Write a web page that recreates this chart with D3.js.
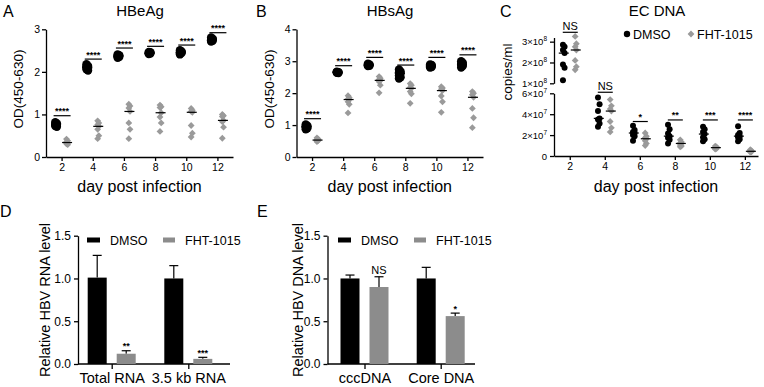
<!DOCTYPE html>
<html>
<head>
<meta charset="utf-8">
<script src="https://cdn.jsdelivr.net/npm/d3@7"></script>
<style>
  body { margin: 0; background: #fff; }
  svg { display: block; font-family: "Liberation Sans", Arial, sans-serif; }
</style>
</head>
<body>
<script>
"use strict";

// ---- data ----
const days = [2, 4, 6, 8, 10, 12];

// panel A, HBeAg OD
const hbeagDmso = [
  [0.82, 0.79, 0.77, 0.75, 0.73, 0.71, 0.76],
  [2.18, 2.14, 2.11, 2.09, 2.06, 2.03, 2.12],
  [2.41, 2.39, 2.37, 2.35, 2.33, 2.38, 2.36],
  [2.47, 2.45, 2.44, 2.43, 2.42, 2.46, 2.44],
  [2.51, 2.48, 2.46, 2.44, 2.41, 2.47, 2.43],
  [2.81, 2.78, 2.75, 2.73, 2.71, 2.76, 2.74]
];
const hbeagFht = [
  [0.42, 0.38, 0.34, 0.33, 0.31, 0.29, 0.35],
  [0.85, 0.80, 0.76, 0.72, 0.65, 0.50, 0.43],
  [1.24, 1.20, 1.15, 1.07, 0.80, 0.65, 0.43],
  [1.22, 1.18, 1.16, 1.04, 0.94, 0.80, 0.60],
  [1.14, 1.10, 1.07, 1.05, 0.74, 0.56, 0.47],
  [1.00, 0.97, 0.95, 0.86, 0.83, 0.70, 0.44]
];
const hbeagSigY = [0.97, 2.30, 2.56, 2.60, 2.63, 2.92];
const hbeagSig = ["****", "****", "****", "****", "****", "****"];

// panel B, HBsAg OD
const hbsagDmso = [
  [1.02, 0.98, 0.96, 0.95, 0.93, 0.90, 0.87],
  [2.67, 2.66, 2.65, 2.65, 2.64, 2.63, 2.66],
  [2.92, 2.90, 2.89, 2.88, 2.87, 2.86, 2.85],
  [2.74, 2.68, 2.65, 2.62, 2.55, 2.50, 2.46],
  [2.90, 2.88, 2.86, 2.85, 2.83, 2.82, 2.80],
  [3.00, 2.95, 2.92, 2.90, 2.88, 2.85, 2.80]
];
const hbsagFht = [
  [0.60, 0.56, 0.55, 0.53, 0.52, 0.51, 0.48],
  [1.92, 1.86, 1.82, 1.80, 1.73, 1.65, 1.38],
  [2.52, 2.47, 2.43, 2.40, 2.36, 2.25, 2.01],
  [2.30, 2.25, 2.18, 2.15, 2.05, 1.98, 1.68],
  [2.20, 2.16, 2.12, 2.08, 1.91, 1.73, 1.40],
  [2.05, 2.00, 1.95, 1.87, 1.52, 1.23, 0.92]
];
const hbsagSigY = [1.20, 2.86, 3.12, 2.88, 3.12, 3.20];
const hbsagSig = ["****", "****", "****", "****", "****", "****"];

// panel C, EC DNA copies/ml
const ecDmso = [
  [2.85e8, 2.75e8, 2.60e8, 2.45e8, 1.90e8, 1.75e8, 1.15e8],
  [5.6e7, 4.95e7, 4.3e7, 3.6e7, 3.5e7, 3.1e7, 2.8e7],
  [2.9e7, 2.5e7, 2.3e7, 2.2e7, 2.0e7, 1.9e7, 1.45e7],
  [3.0e7, 2.55e7, 2.15e7, 1.9e7, 1.75e7, 1.55e7, 1.2e7],
  [2.8e7, 2.55e7, 2.3e7, 2.1e7, 1.8e7, 1.6e7, 1.4e7],
  [2.85e7, 2.2e7, 2.0e7, 1.9e7, 1.8e7, 1.6e7, 1.4e7]
];
const ecFht = [
  [3.25e8, 2.90e8, 2.75e8, 2.60e8, 2.10e8, 1.80e8, 1.65e8],
  [5.4e7, 4.8e7, 4.5e7, 4.3e7, 3.3e7, 2.7e7, 2.3e7],
  [2.2e7, 1.9e7, 1.75e7, 1.65e7, 1.45e7, 1.2e7, 1.0e7],
  [1.55e7, 1.35e7, 1.25e7, 1.2e7, 1.05e7, 0.95e7, 0.88e7],
  [0.95e7, 0.88e7, 0.82e7, 0.8e7, 0.75e7, 0.7e7, 0.65e7],
  [0.6e7, 0.52e7, 0.48e7, 0.45e7, 0.42e7, 0.4e7, 0.38e7]
];
const ecSigY = [3.45e8, 6.1e7, 3.3e7, 3.45e7, 3.45e7, 3.45e7];
const ecSig = ["NS", "NS", "*", "**", "***", "****"];
const ecUpperTicks = [1e8, 2e8, 3e8];
const ecLowerTicks = [0, 2e7, 4e7, 6e7];

// panel D, RNA
const rnaCats = ["Total RNA", "3.5 kb RNA"];
const rnaDmso = [1.01, 1.00];
const rnaDmsoErr = [0.26, 0.15];
const rnaFht = [0.12, 0.06];
const rnaFhtErr = [0.035, 0.018];
const rnaSig = ["**", "***"];

// panel E, DNA
const dnaCats = ["cccDNA", "Core DNA"];
const dnaDmso = [1.00, 1.00];
const dnaDmsoErr = [0.04, 0.13];
const dnaFht = [0.90, 0.56];
const dnaFhtErr = [0.12, 0.035];
const dnaSig = ["NS", "*"];

const seriesNames = ["DMSO", "FHT-1015"];

// ---- drawing ----
const BLACK = "#000";
const GREY = "#9a9a9a";
const BARGREY = "#8c8c8c";
const W = 764, H = 387;

const svg = d3.select("body").append("svg").attr("width", W).attr("height", H);

function diamond(r) {
  return `M0,${-r}L${r},0L0,${r}L${-r},0Z`;
}

function styleAxis(g, fs) {
  g.selectAll(".domain").attr("stroke", BLACK).attr("stroke-width", 1.3);
  g.selectAll(".tick line").attr("stroke", BLACK).attr("stroke-width", 1.3);
  g.selectAll(".tick text").attr("fill", BLACK).style("font-size", fs + "px")
    .style("font-family", "Liberation Sans, Arial, sans-serif");
}

function panelLetter(txt, x, y) {
  svg.append("text").attr("x", x).attr("y", y).text(txt)
    .style("font-size", "16px");
}

function yLabel(txt, x, y, fs) {
  svg.append("text")
    .attr("transform", `translate(${x},${y}) rotate(-90)`)
    .attr("text-anchor", "middle")
    .style("font-size", fs + "px")
    .text(txt);
}

// scatter panel with median lines and significance bars
function scatterPanel(o) {
  const g = svg.append("g");
  const x = d3.scaleLinear().domain(o.xDomain).range(o.xRange);
  const y = d3.scaleLinear().domain(o.yDomain).range([o.baseY, o.topY]);

  g.append("g").attr("transform", `translate(0,${o.baseY})`)
    .call(d3.axisBottom(x).tickValues(days).tickSize(4).tickSizeOuter(0).tickPadding(3))
    .call(ax => styleAxis(ax, 10.5));
  g.append("g").attr("transform", `translate(${o.xRange[0]},0)`)
    .call(d3.axisLeft(y).ticks(o.yTicks).tickFormat(d3.format("d")).tickSize(4).tickSizeOuter(0).tickPadding(2))
    .call(ax => styleAxis(ax, 10.5));

  const off = 5.5;
  days.forEach((d, i) => {
    const cx = x(d);
    // black circles
    g.selectAll(null).data(o.dmso[i]).enter().append("circle")
      .attr("cx", (v, j) => cx - off + (j % 2 ? 0.8 : -0.8))
      .attr("cy", v => y(v)).attr("r", 4.2).attr("fill", BLACK);
    g.append("line").attr("x1", cx - off - 5).attr("x2", cx - off + 5)
      .attr("y1", y(d3.median(o.dmso[i]))).attr("y2", y(d3.median(o.dmso[i])))
      .attr("stroke", BLACK).attr("stroke-width", 1.2);
    // grey diamonds
    g.selectAll(null).data(o.fht[i]).enter().append("path")
      .attr("d", diamond(3.4))
      .attr("transform", (v, j) => `translate(${cx + off + (j % 2 ? 0.6 : -0.6)},${y(v)})`)
      .attr("fill", GREY);
    const m = y(d3.median(o.fht[i]));
    g.append("line").attr("x1", cx + off - 5).attr("x2", cx + off + 5)
      .attr("y1", m).attr("y2", m).attr("stroke", BLACK).attr("stroke-width", 1.2);
    // significance
    const sy = y(o.sigY[i]);
    g.append("line").attr("x1", cx - 8).attr("x2", cx + 9).attr("y1", sy).attr("y2", sy)
      .attr("stroke", BLACK).attr("stroke-width", 1.2);
    g.append("text").attr("x", cx + 0.5).attr("y", sy - 1.5).attr("text-anchor", "middle")
      .style("font-size", "9px").style("font-weight", "bold").text(o.sig[i]);
  });

  svg.append("text").attr("x", o.titleX).attr("y", 16).attr("text-anchor", "middle")
    .style("font-size", "15px").text(o.title);
  svg.append("text").attr("x", (o.xRange[0] + o.xRange[1]) / 2).attr("y", 192)
    .attr("text-anchor", "middle").style("font-size", "16px").text("day post infection");
  yLabel("OD(450-630)", o.ylabX, 89, 13.5);
}

scatterPanel({
  xDomain: [1, 13], xRange: [46, 233], yDomain: [0, 3], yTicks: 3,
  baseY: 157, topY: 29.3, dmso: hbeagDmso, fht: hbeagFht,
  sigY: hbeagSigY, sig: hbeagSig, title: "HBeAg", titleX: 140, ylabX: 23
});
panelLetter("A", 3, 17);

scatterPanel({
  xDomain: [1, 13], xRange: [296.5, 483], yDomain: [0, 4], yTicks: 4,
  baseY: 157, topY: 29.3, dmso: hbsagDmso, fht: hbsagFht,
  sigY: hbsagSigY, sig: hbsagSig, title: "HBsAg", titleX: 390, ylabX: 274
});
panelLetter("B", 256, 17);

// ---- panel C, broken y axis ----
(function () {
  const g = svg.append("g");
  const x = d3.scaleLinear().domain([1.1, 12.75]).range([554, 758]);
  const yUp = d3.scaleLinear().domain([1e8, 3.2e8]).range([83.3, 37.5]);
  const yLo = d3.scaleLinear().domain([0, 6e7]).range([156, 93.3]);
  const yv = v => v >= 1e8 ? yUp(v) : yLo(v);

  g.append("g").attr("transform", "translate(0,156)")
    .call(d3.axisBottom(x).tickValues(days).tickSize(4).tickSizeOuter(0).tickPadding(3))
    .call(ax => styleAxis(ax, 10.5));

  const expFmt = (sel) => {
    sel.selectAll(".tick text").each(function (v) {
      const t = d3.select(this);
      t.text(null);
      if (v === 0) { t.text("0"); return; }
      const e = Math.floor(Math.log10(v));
      const m = Math.round(v / Math.pow(10, e));
      t.append("tspan").text(m + "×10");
      t.append("tspan").attr("dy", -4).style("font-size", "6.5px").text(e);
    });
  };
  g.append("g").attr("transform", "translate(554,0)")
    .call(d3.axisLeft(yUp).tickValues(ecUpperTicks).tickSize(4).tickSizeOuter(0).tickPadding(3))
    .call(ax => styleAxis(ax, 9.5)).call(expFmt);
  g.append("g").attr("transform", "translate(554,0)")
    .call(d3.axisLeft(yLo).tickValues(ecLowerTicks).tickSize(4).tickSizeOuter(0).tickPadding(3))
    .call(ax => styleAxis(ax, 9.5)).call(expFmt);

  const off = 6;
  days.forEach((d, i) => {
    const cx = x(d);
    g.selectAll(null).data(ecDmso[i]).enter().append("circle")
      .attr("cx", (v, j) => cx - off + (j % 2 ? 0.8 : -0.8))
      .attr("cy", v => yv(v)).attr("r", 3).attr("fill", BLACK);
    const md = yv(d3.median(ecDmso[i]));
    g.append("line").attr("x1", cx - off - 5).attr("x2", cx - off + 5)
      .attr("y1", md).attr("y2", md).attr("stroke", BLACK).attr("stroke-width", 1.2);
    g.selectAll(null).data(ecFht[i]).enter().append("path")
      .attr("d", diamond(3.4))
      .attr("transform", (v, j) => `translate(${cx + off + (j % 2 ? 0.6 : -0.6)},${yv(v)})`)
      .attr("fill", GREY);
    const mf = yv(d3.median(ecFht[i]));
    g.append("line").attr("x1", cx + off - 5).attr("x2", cx + off + 5)
      .attr("y1", mf).attr("y2", mf).attr("stroke", BLACK).attr("stroke-width", 1.2);
    const sy = yv(ecSigY[i]);
    g.append("line").attr("x1", cx - 7).attr("x2", cx + 8).attr("y1", sy).attr("y2", sy)
      .attr("stroke", BLACK).attr("stroke-width", 1.2);
    const ns = ecSig[i] === "NS";
    g.append("text").attr("x", cx + 0.5).attr("y", sy - (ns ? 2 : 1.5)).attr("text-anchor", "middle")
      .style("font-size", ns ? "11px" : "9px").style("font-weight", ns ? "normal" : "bold")
      .text(ecSig[i]);
  });

  // legend
  const lg = svg.append("g").attr("transform", "translate(627,34)");
  lg.append("circle").attr("r", 3.2).attr("fill", BLACK);
  lg.append("text").attr("x", 6).attr("y", 4.5).style("font-size", "12.5px").text(seriesNames[0]);
  lg.append("path").attr("d", diamond(3.4)).attr("transform", "translate(64,0)").attr("fill", GREY);
  lg.append("text").attr("x", 70).attr("y", 4.5).style("font-size", "12.5px").text(seriesNames[1]);

  svg.append("text").attr("x", 657).attr("y", 16).attr("text-anchor", "middle")
    .style("font-size", "15px").text("EC DNA");
  svg.append("text").attr("x", 656).attr("y", 192).attr("text-anchor", "middle")
    .style("font-size", "16px").text("day post infection");
  yLabel("copies/ml", 512, 72, 13.5);
  panelLetter("C", 500, 17);
})();

// ---- bar panels ----
function barPanel(o) {
  const g = svg.append("g");
  const x = d3.scalePoint().domain(o.cats).range(o.centers);
  const y = d3.scaleLinear().domain([0, 1.5]).range([364, 235.7]);
  const bw = 19, off = 14.5;

  g.append("g").attr("transform", "translate(0,364)")
    .call(d3.axisBottom(x).tickSize(5).tickSizeOuter(0).tickPadding(3.5))
    .call(ax => styleAxis(ax, 14.5))
    .call(ax => ax.select(".domain").attr("d", `M${o.axisX[0]},0H${o.axisX[1]}`));
  g.append("g").attr("transform", `translate(${o.axisX[0]},0)`)
    .call(d3.axisLeft(y).tickValues([0, 0.5, 1.0, 1.5]).tickFormat(d3.format(".1f"))
      .tickSize(4).tickSizeOuter(0).tickPadding(3))
    .call(ax => styleAxis(ax, 12));

  const groups = [
    { vals: o.dmso, err: o.dmsoErr, color: BLACK, dx: -off },
    { vals: o.fht, err: o.fhtErr, color: BARGREY, dx: off }
  ];
  groups.forEach(s => {
    o.cats.forEach((c, i) => {
      const cx = x(c) + s.dx;
      const top = y(s.vals[i]);
      const et = y(s.vals[i] + s.err[i]);
      g.append("line").attr("x1", cx).attr("x2", cx).attr("y1", top).attr("y2", et)
        .attr("stroke", BLACK).attr("stroke-width", 1.2);
      g.append("line").attr("x1", cx - 4.5).attr("x2", cx + 4.5).attr("y1", et).attr("y2", et)
        .attr("stroke", BLACK).attr("stroke-width", 1.2);
      g.append("rect").attr("x", cx - bw / 2).attr("y", top)
        .attr("width", bw).attr("height", 364 - top).attr("fill", s.color);
    });
  });
  o.cats.forEach((c, i) => {
    const cx = x(c) + off;
    const et = y(o.fht[i] + o.fhtErr[i]);
    const ns = o.sig[i] === "NS";
    g.append("text").attr("x", cx).attr("y", et - (ns ? 3 : 1.5)).attr("text-anchor", "middle")
      .style("font-size", ns ? "11px" : "9px").style("font-weight", ns ? "normal" : "bold")
      .text(o.sig[i]);
  });

  // legend
  const lg = svg.append("g").attr("transform", `translate(${o.legX},240)`);
  lg.append("rect").attr("x", 0).attr("y", -2.5).attr("width", 13).attr("height", 5).attr("fill", BLACK);
  lg.append("text").attr("x", 23).attr("y", 4.5).style("font-size", "12.5px").text(seriesNames[0]);
  lg.append("rect").attr("x", 76).attr("y", -2.5).attr("width", 12).attr("height", 5).attr("fill", BARGREY);
  lg.append("text").attr("x", 98).attr("y", 4.5).style("font-size", "12.5px").text(seriesNames[1]);

  yLabel(o.ylab, o.ylabX, 300, 14.5);
}

barPanel({
  cats: rnaCats, centers: [111.7, 188.3], axisX: [78, 230],
  dmso: rnaDmso, dmsoErr: rnaDmsoErr, fht: rnaFht, fhtErr: rnaFhtErr, sig: rnaSig,
  legX: 87, ylab: "Relative HBV RNA level", ylabX: 50
});
panelLetter("D", 0, 217);

barPanel({
  cats: dnaCats, centers: [364.5, 440.7], axisX: [327.5, 475],
  dmso: dnaDmso, dmsoErr: dnaDmsoErr, fht: dnaFht, fhtErr: dnaFhtErr, sig: dnaSig,
  legX: 338, ylab: "Relative HBV DNA level", ylabX: 303
});
panelLetter("E", 257, 217);
</script>
</body>
</html>
